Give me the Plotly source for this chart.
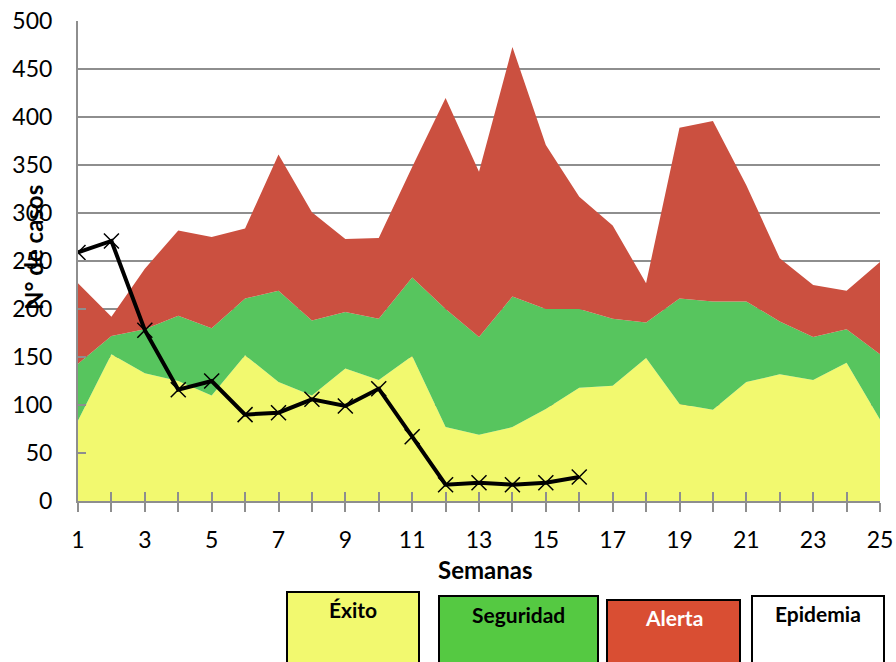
import plotly.graph_objects as go

semanas = list(range(1, 26))
exito_max = [84, 153, 133, 125, 110, 152, 124, 110, 138, 126, 151, 77, 69, 77, 96,
             118, 120, 149, 101, 95, 124, 132, 126, 144, 85]
seguridad_max = [143, 172, 179, 193, 180, 211, 219, 188, 197, 190, 233, 200, 171, 213, 200,
                 200, 190, 186, 211, 208, 208, 187, 171, 179, 153]
alerta_max = [227, 192, 242, 282, 275, 284, 361, 301, 273, 274, 348, 420, 343, 473, 371,
              317, 287, 227, 389, 396, 329, 253, 225, 219, 249]
semanas_casos = list(range(1, 17))
casos = [259, 271, 178, 116, 125, 90, 92, 106, 99, 117, 67, 17, 19, 17, 19, 25]
x_etiquetas = [str(s) if s % 2 == 1 else "" for s in semanas]
y_ticks = [0, 50, 100, 150, 200, 250, 300, 350, 400, 450, 500]

leyenda = ["Éxito", "Seguridad", "Alerta", "Epidemia"]

C_YEL = "#F2F96F"
C_GRN = "#57C55E"
C_RED = "#CB5040"
GRID = "#8E8E8E"
FONT = "Lato"

W, H = 896, 662
L, R, T, B = 78, 880, 21, 501  # plot area in page pixels

fig = go.Figure()
fig.add_trace(go.Scatter(x=semanas, y=exito_max, mode="lines", line=dict(width=0),
                         fill="tozeroy", fillcolor=C_YEL, hoverinfo="skip"))
fig.add_trace(go.Scatter(x=semanas, y=seguridad_max, mode="lines", line=dict(width=0),
                         fill="tonexty", fillcolor=C_GRN, hoverinfo="skip"))
fig.add_trace(go.Scatter(x=semanas, y=alerta_max, mode="lines", line=dict(width=0),
                         fill="tonexty", fillcolor=C_RED, hoverinfo="skip"))
fig.add_trace(go.Scatter(x=semanas_casos, y=casos, mode="lines+markers",
                         line=dict(color="black", width=4),
                         marker=dict(symbol="x-thin", size=15, color="black",
                                     line=dict(color="black", width=1.5))))
fig.add_trace(go.Scatter(x=[1, 25], y=[0, 0], xaxis="x2", mode="lines",
                         line=dict(width=0), hoverinfo="skip", showlegend=False))

fig.update_layout(
    width=W, height=H,
    margin=dict(l=L, r=W - R, t=T, b=H - B, autoexpand=False),
    plot_bgcolor="white", paper_bgcolor="white",
    showlegend=False,
    font=dict(family=FONT, size=23, color="black"),
    xaxis=dict(range=[1, 25], tickmode="array", tickvals=semanas, ticktext=x_etiquetas,
               ticks="outside", ticklen=9, tickwidth=2, tickcolor=GRID,
               showline=True, linecolor=GRID, linewidth=2,
               showgrid=False, zeroline=False, automargin=False,
               ticklabelstandoff=8, ticklabeloverflow="allow"),
    xaxis2=dict(range=[1, 25], overlaying="x", tickmode="array", tickvals=semanas,
                ticks="inside", ticklen=9, tickwidth=2, tickcolor=GRID,
                showticklabels=False, showgrid=False, zeroline=False,
                showline=False, side="bottom", anchor="y", automargin=False),
    yaxis=dict(range=[0, 500.2], tickmode="array", tickvals=y_ticks,
               ticks="inside", ticklen=8, tickwidth=2,
               tickcolor=GRID, showline=True, linecolor=GRID, linewidth=2,
               showgrid=True, gridcolor=GRID, gridwidth=2, zeroline=False,
               ticklabelstandoff=19, automargin=False, ticklabeloverflow="allow"),
)

PW, PH = R - L, B - T


def px(x):
    return (x - L) / PW


def py(y):
    return (B - y) / PH


fig.add_annotation(text="<b>Semanas</b>", xref="paper", yref="paper",
                   x=px(485), y=py(569), showarrow=False,
                   font=dict(family=FONT, size=24), xanchor="center", yanchor="middle")
fig.add_annotation(text="<b>N° de casos</b>", xref="paper", yref="paper",
                   x=px(33), y=py(248), showarrow=False, textangle=-90,
                   font=dict(family=FONT, size=24), xanchor="center", yanchor="middle")

boxes = [
    (287, 419, 592, C_YEL, "black", 609),
    (439, 598, 596, "#55C942", "black", 614),
    (607, 740, 600, "#D94E33", "white", 617),
    (752, 884, 596, "white", "black", 613),
]
for (x0, x1, top, fc, tc, ty), label in zip(boxes, leyenda):
    fig.add_shape(type="rect", xref="paper", yref="paper",
                  x0=px(x0), x1=px(x1), y0=py(top), y1=py(H + 20),
                  fillcolor=fc, line=dict(color="black", width=2), layer="above")
    fig.add_annotation(text=f"<b>{label}</b>", xref="paper", yref="paper",
                       x=px((x0 + x1) / 2), y=py(ty),
                       showarrow=False, font=dict(family=FONT, size=21, color=tc),
                       xanchor="center", yanchor="middle")

fig.write_html("out.html",
               config={"displayModeBar": False},
               post_script="document.body.style.margin='0';document.body.style.overflow='hidden';")
